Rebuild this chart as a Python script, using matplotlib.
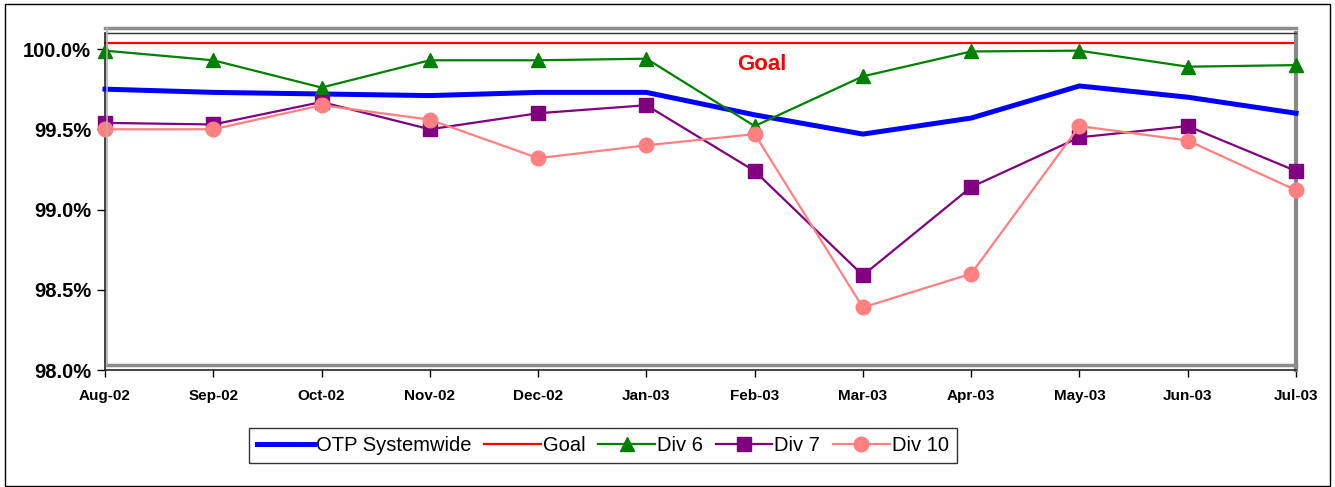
import matplotlib
matplotlib.use("Agg")
import matplotlib.pyplot as plt
from matplotlib.patches import Rectangle
from matplotlib.lines import Line2D
from matplotlib.ticker import FuncFormatter

plt.rcParams['font.family'] = ['Liberation Sans', 'DejaVu Sans']

months = ["Aug-02", "Sep-02", "Oct-02", "Nov-02", "Dec-02", "Jan-03",
          "Feb-03", "Mar-03", "Apr-03", "May-03", "Jun-03", "Jul-03"]
otp_systemwide = [99.75, 99.73, 99.72, 99.71, 99.73, 99.73,
                  99.59, 99.47, 99.57, 99.77, 99.70, 99.60]
goal = [100.04] * 12
div6 = [99.99, 99.93, 99.76, 99.93, 99.93, 99.94,
        99.52, 99.83, 99.985, 99.99, 99.89, 99.90]
div7 = [99.54, 99.53, 99.67, 99.50, 99.60, 99.65,
        99.24, 98.59, 99.14, 99.45, 99.52, 99.24]
div10 = [99.50, 99.50, 99.65, 99.56, 99.32, 99.40,
         99.47, 98.39, 98.60, 99.52, 99.43, 99.12]
yticks = [98.0, 98.5, 99.0, 99.5, 100.0]

W, H = 1335, 487
fig = plt.figure(figsize=(W / 100, H / 100), dpi=100)

# outer chart border
fig.patches.append(Rectangle((5 / W, 1 / H), 1325 / W, 482 / H, transform=fig.transFigure,
                             fill=False, edgecolor="black", linewidth=1.0))

ax = fig.add_axes([105 / W, 1 - 370 / H, (1296 - 105) / W, (370 - 33) / H])
x = list(range(len(months)))

ax.plot(x, otp_systemwide, color="#0000ff", linewidth=3.6, label="OTP Systemwide",
        zorder=3, clip_on=False)
ax.plot(x, goal, color="#ff0000", linewidth=1.6, label="Goal", zorder=2, clip_on=False)
ax.plot(x, div6, color="#008000", linewidth=1.6, marker="^", markersize=10.5,
        label="Div 6", zorder=4, clip_on=False)
ax.plot(x, div7, color="#800080", linewidth=1.6, marker="s", markersize=10,
        label="Div 7", zorder=5, clip_on=False)
ax.plot(x, div10, color="#ff8080", linewidth=1.6, marker="o", markersize=10.5,
        label="Div 10", zorder=6, clip_on=False)

ax.set_xlim(0, len(months) - 1)
ax.set_ylim(98.0, 100.1)
ax.set_yticks(yticks)
ax.yaxis.set_major_formatter(FuncFormatter(lambda v, p: f"{v:.1f}%"))
ax.set_xticks(x)
ax.set_xticklabels(months)
for lab in ax.get_yticklabels():
    lab.set_fontsize(14.5)
    lab.set_fontweight("bold")
for lab in ax.get_xticklabels():
    lab.set_fontsize(11)
    lab.set_fontweight("bold")
ax.tick_params(axis="y", length=6, width=1, pad=4, direction="out")
ax.tick_params(axis="x", length=5, width=1, pad=9, direction="out")

for side in ("left", "bottom"):
    ax.spines[side].set_color("#222222")
    ax.spines[side].set_linewidth(1.2)
ax.spines["top"].set_color("#333333")
ax.spines["top"].set_linewidth(1.0)
ax.spines["right"].set_color("#888888")
ax.spines["right"].set_linewidth(3)

# shaded plot-area frame
fig.add_artist(Line2D([105 / W, 1296 / W], [1 - 28 / H, 1 - 28 / H],
                      color="#8c8c8c", linewidth=2.5))
fig.add_artist(Line2D([107 / W, 1296 / W], [1 - 365 / H, 1 - 365 / H],
                      color="#8c8c8c", linewidth=2.5))
fig.add_artist(Line2D([107 / W, 107 / W], [1 - 365 / H, 1 - 28 / H],
                      color="#b0b0b0", linewidth=1.2))

ax.text(6.07, 99.905, "Goal", color="#ff0000", fontsize=16, fontweight="bold",
        ha="center", va="center")

leg = fig.legend(loc="center", bbox_to_anchor=(603 / W, 1 - 445.5 / H), ncol=5,
                 frameon=True, fancybox=False, edgecolor="black", fontsize=14.5,
                 handlelength=2.8, handletextpad=0.1, columnspacing=0.65,
                 borderpad=0.4, borderaxespad=0)
leg.get_frame().set_linewidth(1.0)

fig.savefig("out.png", dpi=100)
